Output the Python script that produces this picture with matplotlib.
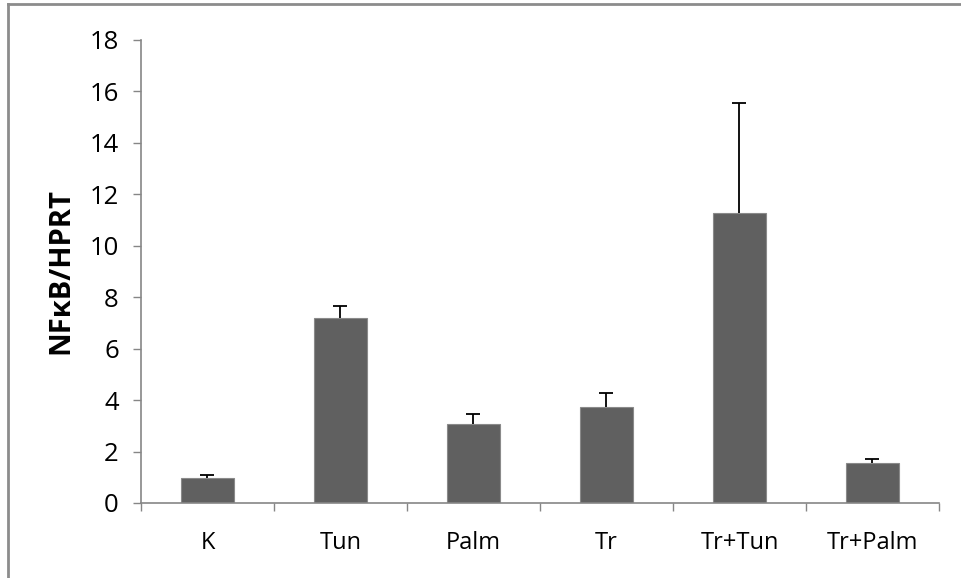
import matplotlib.pyplot as plt
import numpy as np
from matplotlib.lines import Line2D

plt.rcParams["font.family"] = ["Open Sans", "DejaVu Sans"]

groups = ["K", "Tun", "Palm", "Tr", "Tr+Tun", "Tr+Palm"]
values = [0.98, 7.18, 3.06, 3.72, 11.26, 1.54]
errors = [0.11, 0.49, 0.41, 0.54, 4.28, 0.16]
y_ticks = [0, 2, 4, 6, 8, 10, 12, 14, 16, 18]

axis_grey = "#868686"
bar_grey = "#606060"

fig = plt.figure(figsize=(9.61, 5.78), dpi=100)
ax = fig.add_axes([0.1467, 0.1298, 0.9771 - 0.1467, 0.9308 - 0.1298])

x = np.arange(len(groups))
ax.bar(x, values, width=0.395, color=bar_grey, edgecolor="#8a8a8a", linewidth=0.8, zorder=2)
eb = ax.errorbar(x, values, yerr=[np.zeros(len(errors)), errors], fmt="none",
                 ecolor="black", elinewidth=1.3, capsize=5, capthick=1.3, zorder=3)
# only the upper cap is shown
eb[1][0].set_visible(False)

ax.set_xlim(-0.5, len(groups) - 0.5)
ax.set_ylim(0, 18)
ax.set_yticks(y_ticks)
ax.set_yticklabels([str(t) for t in y_ticks], fontsize=18.5)

# boundary ticks below the axis, category names centred on minor ticks
ax.set_xticks(np.arange(-0.5, len(groups), 1.0))
ax.set_xticklabels([])
ax.set_xticks(x, minor=True)
ax.set_xticklabels(groups, minor=True, fontsize=17)
ax.tick_params(axis="x", which="major", direction="out", length=6, color=axis_grey, width=1)
ax.tick_params(axis="x", which="minor", length=0, pad=20)
ax.tick_params(axis="y", direction="out", length=6, color=axis_grey, width=1, pad=10)

for side in ["top", "right"]:
    ax.spines[side].set_visible(False)
for side in ["left", "bottom"]:
    ax.spines[side].set_color(axis_grey)
    ax.spines[side].set_linewidth(1.2)

ax.set_ylabel("NFκB/HPRT", fontsize=21, fontweight="bold", labelpad=10)

# outer chart frame (only top and left edges visible)
fig.add_artist(Line2D([8 / 961, 1.0], [1 - 4 / 578, 1 - 4 / 578], color="#8c8c8c", linewidth=2,
                      transform=fig.transFigure))
fig.add_artist(Line2D([8 / 961, 8 / 961], [0.0, 1 - 4 / 578], color="#8c8c8c", linewidth=2,
                      transform=fig.transFigure))

fig.savefig("out.png", dpi=100)
